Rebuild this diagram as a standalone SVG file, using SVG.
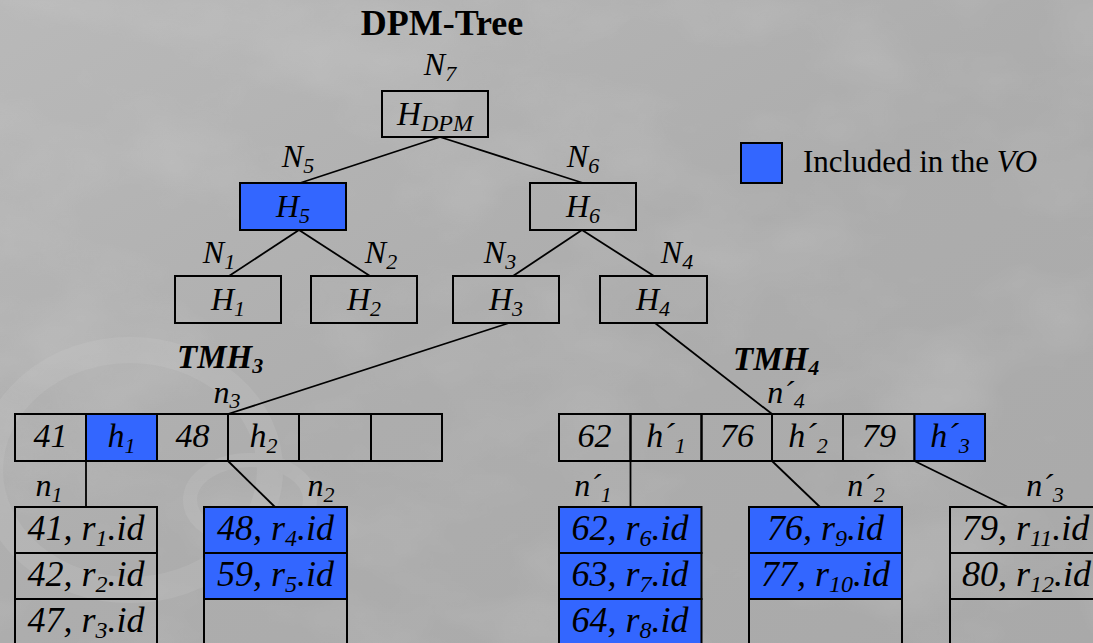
<svg xmlns="http://www.w3.org/2000/svg" width="1093" height="643" viewBox="0 0 1093 643">
<defs>
<style>
.t{font-family:"Liberation Serif","DejaVu Serif","Times New Roman",serif;font-style:italic;font-size:32px;fill:#000}
.rm{font-family:"Liberation Serif","DejaVu Serif","Times New Roman",serif;fill:#000}
.lf{font-size:36px}
.cl{font-size:34px}
.s{font-size:22px}
.sl{font-size:24px}
.box{fill:none;stroke:#000;stroke-width:2}
.blue{fill:#3366ff;stroke:#000;stroke-width:2}
.ln{stroke:#000;stroke-width:1.8;fill:none}
</style>
<linearGradient id="bg" x1="0" y1="0" x2="1" y2="1">
<stop offset="0" stop-color="#b9b9b9"/>
<stop offset="0.5" stop-color="#adadad"/>
<stop offset="1" stop-color="#a9a9a9"/>
</linearGradient>
<filter id="marble" x="0" y="0" width="100%" height="100%">
<feTurbulence type="fractalNoise" baseFrequency="0.006 0.01" numOctaves="4" seed="7"/>
<feColorMatrix type="matrix" values="0 0 0 0 1  0 0 0 0 1  0 0 0 0 1  0.6 0.6 0 0 -0.55"/>
</filter>
</defs>
<rect width="1093" height="643" fill="url(#bg)"/>
<rect width="1093" height="643" filter="url(#marble)" opacity="0.3"/>
<g opacity="0.15" fill="none" stroke="#d8d8d8">
<ellipse cx="130" cy="470" rx="140" ry="120" stroke-width="26"/>
<ellipse cx="250" cy="500" rx="60" ry="40" stroke-width="14"/>
</g>

<text class="rm" x="442" y="35" text-anchor="middle" style="font-weight:bold;font-size:36px">DPM-Tree</text>

<g id="connectors">
<line class="ln" x1="440" y1="137" x2="300" y2="183"/>
<line class="ln" x1="440" y1="137" x2="583" y2="183"/>
<line class="ln" x1="299" y1="230" x2="229" y2="276"/>
<line class="ln" x1="299" y1="230" x2="370" y2="276"/>
<line class="ln" x1="582" y1="230" x2="513" y2="276"/>
<line class="ln" x1="582" y1="230" x2="654" y2="276"/>
<line class="ln" x1="509" y1="323" x2="228" y2="414"/>
<line class="ln" x1="655" y1="323" x2="772" y2="414"/>
<line class="ln" x1="86" y1="461" x2="86" y2="507"/>
<line class="ln" x1="228" y1="461" x2="275" y2="507"/>
<line class="ln" x1="630.5" y1="461" x2="630.5" y2="507"/>
<line class="ln" x1="772" y1="461" x2="820" y2="507"/>
<line class="ln" x1="914.5" y1="461" x2="1008" y2="507"/>
</g>

<g id="N7">
<text class="t" x="440" y="75" text-anchor="middle">N<tspan class="s" dy="6">7</tspan></text>
<rect class="box" x="382" y="91" width="106" height="46"/>
<text class="t" x="435" y="125" text-anchor="middle" style="font-size:33px">H<tspan class="s" dy="6" style="font-size:24px">DPM</tspan></text>
</g>
<g id="N5">
<text class="t" x="298" y="167" text-anchor="middle">N<tspan class="s" dy="6">5</tspan></text>
<rect class="blue" x="240" y="183" width="106" height="47"/>
<text class="t" x="293" y="217" text-anchor="middle">H<tspan class="s" dy="6">5</tspan></text>
</g>
<g id="N6">
<text class="t" x="583" y="167" text-anchor="middle">N<tspan class="s" dy="6">6</tspan></text>
<rect class="box" x="530" y="183" width="106" height="47"/>
<text class="t" x="583" y="217" text-anchor="middle">H<tspan class="s" dy="6">6</tspan></text>
</g>
<g id="N1">
<text class="t" x="219" y="263" text-anchor="middle">N<tspan class="s" dy="6">1</tspan></text>
<rect class="box" x="175" y="276" width="106" height="47"/>
<text class="t" x="228" y="310" text-anchor="middle">H<tspan class="s" dy="6">1</tspan></text>
</g>
<g id="N2">
<text class="t" x="381" y="263" text-anchor="middle">N<tspan class="s" dy="6">2</tspan></text>
<rect class="box" x="311" y="276" width="106" height="47"/>
<text class="t" x="364" y="310" text-anchor="middle">H<tspan class="s" dy="6">2</tspan></text>
</g>
<g id="N3">
<text class="t" x="500" y="263" text-anchor="middle">N<tspan class="s" dy="6">3</tspan></text>
<rect class="box" x="453" y="276" width="106" height="47"/>
<text class="t" x="506" y="310" text-anchor="middle">H<tspan class="s" dy="6">3</tspan></text>
</g>
<g id="N4">
<text class="t" x="677" y="263" text-anchor="middle">N<tspan class="s" dy="6">4</tspan></text>
<rect class="box" x="600" y="276" width="107" height="47"/>
<text class="t" x="653" y="310" text-anchor="middle">H<tspan class="s" dy="6">4</tspan></text>
</g>

<g id="legend">
<rect class="blue" x="741" y="143" width="41" height="40"/>
<text class="rm" x="803" y="172" style="font-size:31px">Included in the <tspan font-style="italic">VO</tspan></text>
</g>

<g id="TMH3">
<text class="t" x="177" y="368" style="font-weight:bold;font-size:33px">TMH<tspan class="s" dy="5">3</tspan></text>
<text class="t" x="227" y="403" text-anchor="middle">n<tspan class="s" dy="5">3</tspan></text>
<rect class="box" x="15" y="414" width="71" height="47"/>
<rect class="blue" x="86" y="414" width="71" height="47"/>
<rect class="box" x="157" y="414" width="71" height="47"/>
<rect class="box" x="228" y="414" width="71" height="47"/>
<rect class="box" x="299" y="414" width="72" height="47"/>
<rect class="box" x="371" y="414" width="71" height="47"/>
<text class="t cl" x="50.5" y="447" text-anchor="middle">41</text>
<text class="t cl" x="121.5" y="447" text-anchor="middle">h<tspan class="s" dy="6">1</tspan></text>
<text class="t cl" x="192.5" y="447" text-anchor="middle">48</text>
<text class="t cl" x="263.5" y="447" text-anchor="middle">h<tspan class="s" dy="6">2</tspan></text>
</g>

<g id="n1">
<text class="t" x="49" y="496" text-anchor="middle">n<tspan class="s" dy="6">1</tspan></text>
<rect class="box" x="15" y="507" width="142" height="46"/>
<rect class="box" x="15" y="553" width="142" height="46"/>
<rect class="box" x="15" y="599" width="142" height="46"/>
<text class="t lf" x="86" y="540" text-anchor="middle">41, r<tspan class="sl" dy="6">1</tspan><tspan dy="-6">.id</tspan></text>
<text class="t lf" x="86" y="586" text-anchor="middle">42, r<tspan class="sl" dy="6">2</tspan><tspan dy="-6">.id</tspan></text>
<text class="t lf" x="86" y="632" text-anchor="middle">47, r<tspan class="sl" dy="6">3</tspan><tspan dy="-6">.id</tspan></text>
</g>
<g id="n2">
<text class="t" x="321" y="496" text-anchor="middle">n<tspan class="s" dy="6">2</tspan></text>
<rect class="blue" x="204" y="507" width="143" height="46"/>
<rect class="blue" x="204" y="553" width="143" height="46"/>
<rect class="box" x="204" y="599" width="143" height="46"/>
<text class="t lf" x="275.5" y="540" text-anchor="middle">48, r<tspan class="sl" dy="6">4</tspan><tspan dy="-6">.id</tspan></text>
<text class="t lf" x="275.5" y="586" text-anchor="middle">59, r<tspan class="sl" dy="6">5</tspan><tspan dy="-6">.id</tspan></text>
</g>

<g id="TMH4">
<text class="t" x="733" y="370" style="font-weight:bold;font-size:33px">TMH<tspan class="s" dy="5">4</tspan></text>
<text class="t" x="786" y="403" text-anchor="middle">n´<tspan class="s" dy="5">4</tspan></text>
<rect class="box" x="559" y="414" width="71.5" height="47"/>
<rect class="box" x="630.5" y="414" width="71" height="47"/>
<rect class="box" x="701.5" y="414" width="70.5" height="47"/>
<rect class="box" x="772" y="414" width="71" height="47"/>
<rect class="box" x="843" y="414" width="71.5" height="47"/>
<rect class="blue" x="914.5" y="414" width="70.5" height="47"/>
<text class="t cl" x="594.5" y="447" text-anchor="middle">62</text>
<text class="t cl" x="666" y="447" text-anchor="middle">h´<tspan class="s" dy="6">1</tspan></text>
<text class="t cl" x="737" y="447" text-anchor="middle">76</text>
<text class="t cl" x="808" y="447" text-anchor="middle">h´<tspan class="s" dy="6">2</tspan></text>
<text class="t cl" x="879" y="447" text-anchor="middle">79</text>
<text class="t cl" x="950" y="447" text-anchor="middle">h´<tspan class="s" dy="6">3</tspan></text>
</g>

<g id="n1p">
<text class="t" x="593" y="496" text-anchor="middle">n´<tspan class="s" dy="6">1</tspan></text>
<rect class="blue" x="559" y="507" width="142.5" height="46"/>
<rect class="blue" x="559" y="553" width="142.5" height="46"/>
<rect class="blue" x="559" y="599" width="142.5" height="46"/>
<text class="t lf" x="630" y="540" text-anchor="middle">62, r<tspan class="sl" dy="6">6</tspan><tspan dy="-6">.id</tspan></text>
<text class="t lf" x="630" y="586" text-anchor="middle">63, r<tspan class="sl" dy="6">7</tspan><tspan dy="-6">.id</tspan></text>
<text class="t lf" x="630" y="632" text-anchor="middle">64, r<tspan class="sl" dy="6">8</tspan><tspan dy="-6">.id</tspan></text>
</g>
<g id="n2p">
<text class="t" x="866" y="496" text-anchor="middle">n´<tspan class="s" dy="6">2</tspan></text>
<rect class="blue" x="749" y="507" width="153" height="46"/>
<rect class="blue" x="749" y="553" width="153" height="46"/>
<rect class="box" x="749" y="599" width="153" height="46"/>
<text class="t lf" x="825.5" y="540" text-anchor="middle">76, r<tspan class="sl" dy="6">9</tspan><tspan dy="-6">.id</tspan></text>
<text class="t lf" x="825.5" y="586" text-anchor="middle">77, r<tspan class="sl" dy="6">10</tspan><tspan dy="-6">.id</tspan></text>
</g>
<g id="n3p">
<text class="t" x="1045" y="496" text-anchor="middle">n´<tspan class="s" dy="6">3</tspan></text>
<rect class="box" x="950" y="507" width="153" height="46"/>
<rect class="box" x="950" y="553" width="153" height="46"/>
<rect class="box" x="950" y="599" width="153" height="46"/>
<text class="t lf" x="962" y="540">79, r<tspan class="sl" dy="6">11</tspan><tspan dy="-6">.id</tspan></text>
<text class="t lf" x="962" y="586">80, r<tspan class="sl" dy="6">12</tspan><tspan dy="-6">.id</tspan></text>
</g>
</svg>
